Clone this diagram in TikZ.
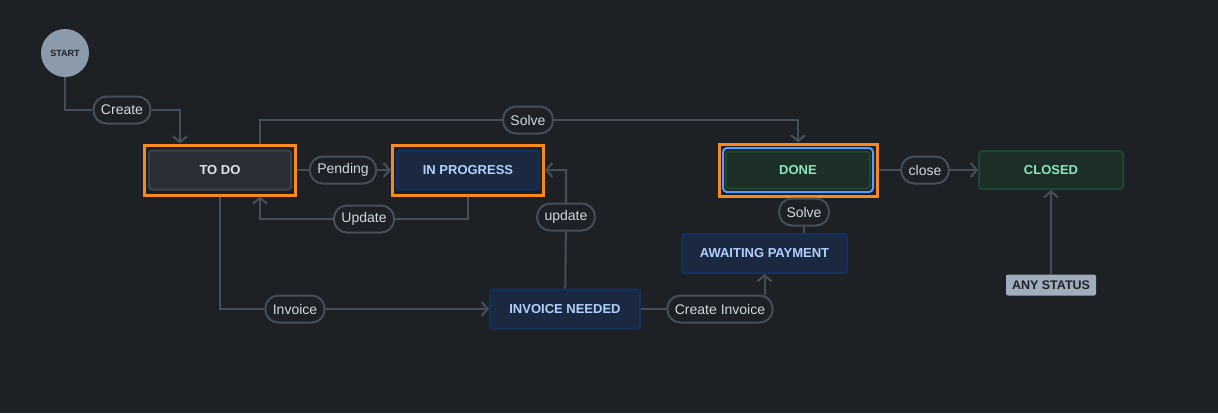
\documentclass[tikz,border=0pt]{standalone}
\usepackage{fontspec}
\setmainfont{Liberation Sans}
\usetikzlibrary{arrows.meta}
\definecolor{bgcol}{HTML}{1D2125}
\definecolor{linecol}{HTML}{454F59}
\definecolor{lbltext}{HTML}{D0D8E0}
\definecolor{pickorange}{HTML}{F68A1E}
\definecolor{ringblue}{HTML}{579DFF}
\definecolor{todofill}{HTML}{2A2F35}
\definecolor{todoline}{HTML}{3B424A}
\definecolor{todotext}{HTML}{DEE4EA}
\definecolor{blufill}{HTML}{1A2940}
\definecolor{bluline}{HTML}{12315F}
\definecolor{blutext}{HTML}{B3CFFF}
\definecolor{grnfill}{HTML}{1B2F27}
\definecolor{grnline}{HTML}{1E4532}
\definecolor{grntext}{HTML}{8AE6BF}
\definecolor{startfill}{HTML}{8C9BAB}
\definecolor{anyfill}{HTML}{9FADBC}
\tikzset{state/.style={draw, line width=2pt, rounded corners=3pt, minimum width=142pt, minimum height=39pt, inner sep=0pt, font=\fontsize{13}{15}\selectfont\bfseries}}
\tikzset{todostate/.style={state, draw=todoline, fill=todofill, text=todotext}}
\tikzset{blustate/.style={state, draw=bluline, fill=blufill, text=blutext}}
\tikzset{grnstate/.style={state, draw=grnline, fill=grnfill, text=grntext}}
\tikzset{hilite/.style={draw=pickorange, line width=3pt, minimum width=151pt, minimum height=50pt, inner sep=0pt}}
\tikzset{lbl/.style={draw=linecol, line width=2pt, fill=bgcol, text=lbltext, rounded corners=13pt, minimum height=27pt, inner xsep=7.5pt, inner ysep=0pt, font=\fontsize{14}{16}\selectfont}}
\tikzset{flow/.style={draw=linecol, line width=2pt, -{Straight Barb[length=6pt,width=14pt]}}}

\begin{document}
\begin{tikzpicture}[x=1pt,y=-1pt]
            \fill[bgcol] (0,0) rectangle (1218,413);
            \useasboundingbox (0,0) rectangle (1218,413);
            % setup the states
            \node[circle, fill=startfill, minimum size=48pt, inner sep=0pt, text=bgcol, font=\fontsize{9}{10}\selectfont\bfseries] (start) at (65,53) {START};
            \node[todostate] (todo) at (220,170) {TO DO};
            \node[blustate] (prog) at (468,170) {IN PROGRESS};
            \node[blustate, minimum width=150pt] (invneed) at (565,309) {INVOICE NEEDED};
            \node[blustate, minimum width=165pt] (awaiting) at (764.5,253.5) {AWAITING PAYMENT};
            \node[draw=ringblue, line width=2pt, rounded corners=4pt, minimum width=150pt, minimum height=44pt] (donering) at (798,170) {};
            \node[grnstate, minimum width=144pt, minimum height=37pt] (done) at (798,170) {DONE};
            \node[grnstate, minimum width=144pt, minimum height=38pt] (closed) at (1051,170) {CLOSED};
            \node[fill=anyfill, rounded corners=2pt, minimum width=90pt, minimum height=21pt, inner sep=0pt, text=bgcol, font=\fontsize{12.5}{14}\selectfont\bfseries] (anystatus) at (1051,285) {ANY STATUS};
            % orange frames round the picked states
            \foreach \n in {todo,prog}
            {
                \node[hilite] (\n frame) at (\n) {};
            }
            \node[hilite, minimum width=158pt, minimum height=52pt] (doneframe) at (done) {};
            % transition labels
            \foreach \n/\x/\y/\t in {create/122/110/Create, pending/343/170/Pending, update/364/219/Update, solvetop/528/120/Solve, updlbl/566/217/update, invoice/295/309/Invoice, createinv/720/309/Create Invoice, solvelow/804/212/Solve, close/925/170/close}
            {
                \node[lbl] (\n) at (\x,\y) {\t};
            }
            % transitions
            \draw[flow] (start) |- (create) -| ([xshift=-40pt]todoframe.north);
            \draw[flow] (todoframe) -- (pending) -- (progframe);
            \draw[flow] (progframe) |- (update) -| ([xshift=40pt]todoframe.south);
            \draw[flow] ([xshift=40pt]todoframe.north) |- (solvetop) -| (doneframe);
            \draw[flow] (todoframe) |- (invoice) -- (invneed);
            \draw[flow] (invneed) -- (updlbl) |- (progframe);
            \draw[draw=linecol, line width=2pt] (invneed) -- (createinv);
            \draw[flow] (createinv.north -| awaiting) -- (awaiting);
            \draw[draw=linecol, line width=2pt] (solvelow) -- (solvelow |- awaiting.north);
            \draw[flow] (doneframe) -- (close) -- (closed);
            \draw[flow] (anystatus) -- (closed);
\end{tikzpicture}
\end{document}
